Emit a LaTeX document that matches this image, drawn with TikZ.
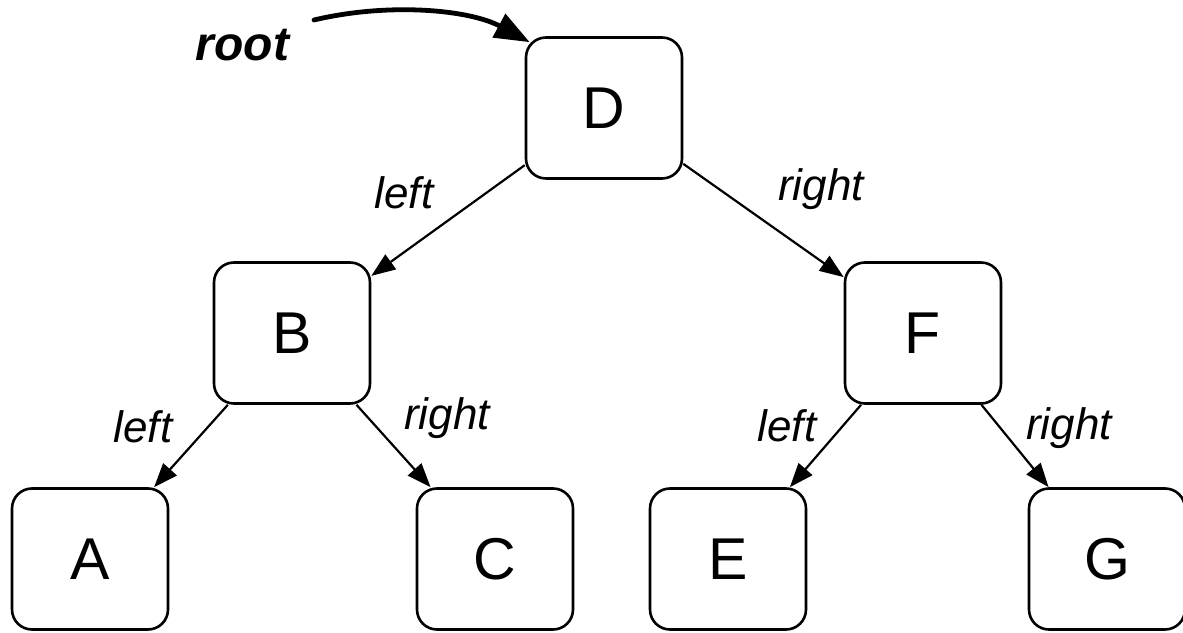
\documentclass[tikz,border=0pt]{standalone}
\usepackage{fontspec}
\setmainfont{Liberation Sans}
\usetikzlibrary{arrows.meta}

\begin{document}
\begin{tikzpicture}[>={Triangle[length=12bp,width=9bp]},line join=bevel,
  treebox/.style={draw,rounded corners=10bp,line width=1.3bp,minimum width=78bp,minimum height=70.5bp,inner sep=0pt,font=\fontsize{29.5bp}{29.5bp}\selectfont},
  edgelbl/.style={inner sep=0pt,font=\fontsize{22bp}{22bp}\selectfont\itshape},
  link/.style={black,line width=1.1bp,->}]
\useasboundingbox (0bp,0bp) rectangle (591.5bp,316.5bp);
%%
\node (node_D) at (302bp,262.5bp) [treebox] {D};
  \node (node_B) at (146bp,150bp) [treebox] {B};
  \node (node_F) at (461.5bp,150bp) [treebox] {F};
  \node (node_A) at (45bp,37bp) [treebox] {A};
  \node (node_C) at (247.5bp,37bp) [treebox] {C};
  \node (node_E) at (364bp,37bp) [treebox] {E};
  \node (node_G) at (553.5bp,37bp) [treebox] {G};
  \draw [link] (node_D) -- (node_B);
  \draw [link] (node_D) -- (node_F);
  \draw [link] (node_B) -- (node_A);
  \draw [link] (node_B) -- (node_C);
  \draw [link] (node_F) -- (node_E);
  \draw [link] (node_F) -- (node_G);
  \node (lbl_DB) at (202bp,220bp) [edgelbl] {left};
  \node (lbl_DF) at (410.5bp,222bp) [edgelbl] {right};
  \node (lbl_BA) at (71.5bp,103bp) [edgelbl] {left};
  \node (lbl_BC) at (223.5bp,107.5bp) [edgelbl] {right};
  \node (lbl_FE) at (393.5bp,103.5bp) [edgelbl] {left};
  \node (lbl_FG) at (534.5bp,102.25bp) [edgelbl] {right};
%
\node (root) at (121.25bp,294bp) [inner sep=0pt,font=\fontsize{24bp}{24bp}\selectfont\bfseries\itshape] {root};
  \coordinate (root_tail) at (157bp,306.5bp);
  \draw [black,line width=2.4bp,line cap=round,-{Triangle[length=17.5bp,width=13bp]}] (root_tail) ..controls (195bp,315.5bp) and (235bp,311.5bp)  .. ([shift={(2.5bp,-3bp)}]node_D.north west);
%
\end{tikzpicture}
\end{document}
